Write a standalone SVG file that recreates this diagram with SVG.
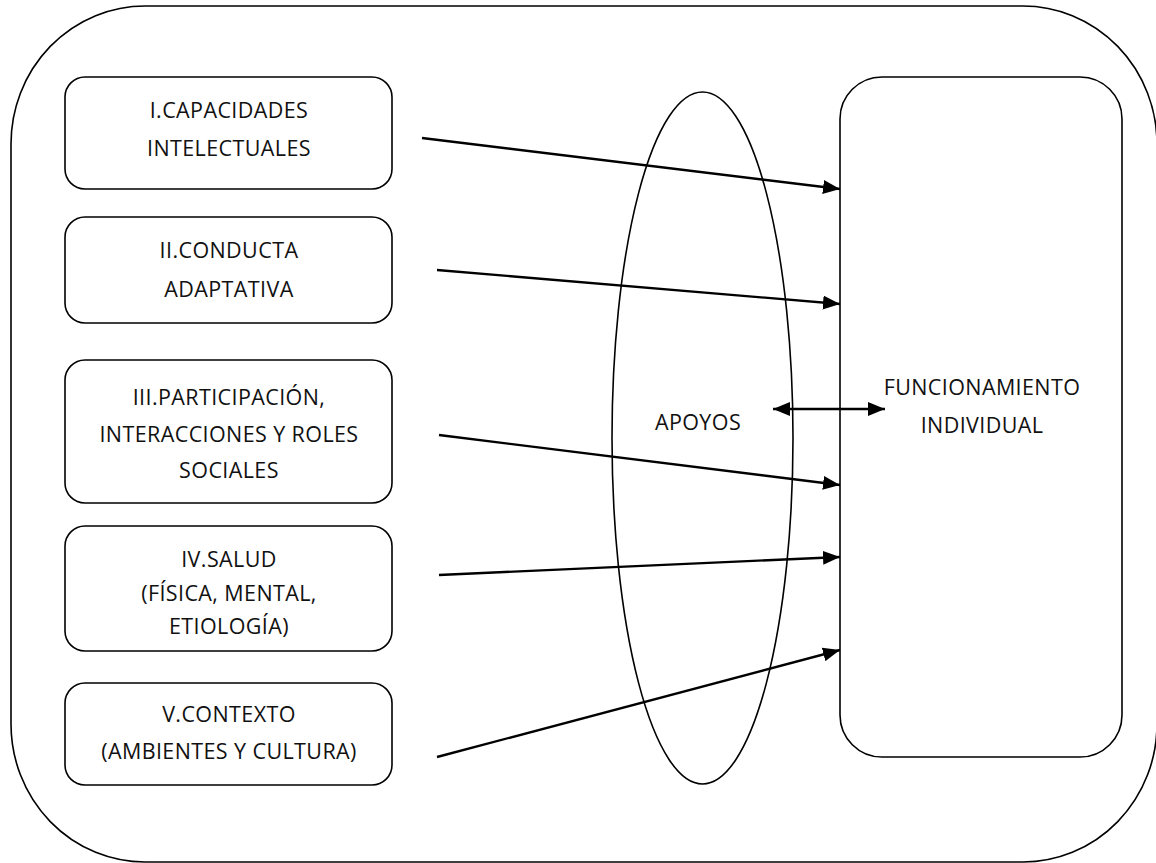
<svg xmlns="http://www.w3.org/2000/svg" width="1156" height="863" viewBox="0 0 1156 863">
<defs>
<style>
.box{fill:#fff;stroke:#000;stroke-width:1.6}
.frame{fill:none;stroke:#000;stroke-width:1.6}
.lbl{font-family:"Open Sans","Liberation Sans",sans-serif;font-size:21.5px;letter-spacing:0.4px;fill:#111;text-anchor:middle}
.conn{stroke:#000;stroke-width:2.4;fill:none}
</style>
<marker id="ah" markerUnits="userSpaceOnUse" markerWidth="18" markerHeight="14" refX="17" refY="7" orient="auto">
<path d="M0,0 L17,7 L0,14 Z" fill="#000"/>
</marker>
<marker id="ahs" markerUnits="userSpaceOnUse" markerWidth="18" markerHeight="14" refX="17" refY="7" orient="auto-start-reverse">
<path d="M0,0 L17,7 L0,14 Z" fill="#000"/>
</marker>
</defs>
<rect width="1156" height="863" fill="#fff"/>
<rect id="frame" class="frame" x="11" y="6" width="1146" height="856" rx="134" ry="138"/>
<g id="apoyos">
<ellipse class="frame" cx="702.5" cy="438" rx="90.5" ry="346"/>
<text class="lbl" x="698" y="430">APOYOS</text>
</g>
<g id="funcionamiento">
<rect class="box" x="840" y="77" width="282" height="680" rx="42"/>
<text class="lbl" x="982" y="395">FUNCIONAMIENTO</text>
<text class="lbl" x="982" y="433">INDIVIDUAL</text>
</g>
<g id="n1">
<rect class="box" x="65" y="77" width="327" height="112" rx="20"/>
<text class="lbl" x="229" y="118">I.CAPACIDADES</text>
<text class="lbl" x="229" y="156">INTELECTUALES</text>
</g>
<g id="n2">
<rect class="box" x="65" y="217" width="327" height="106" rx="20"/>
<text class="lbl" x="229" y="258">II.CONDUCTA</text>
<text class="lbl" x="229" y="297">ADAPTATIVA</text>
</g>
<g id="n3">
<rect class="box" x="65" y="360" width="327" height="143" rx="20"/>
<text class="lbl" x="229" y="405">III.PARTICIPACIÓN,</text>
<text class="lbl" x="229" y="442">INTERACCIONES Y ROLES</text>
<text class="lbl" x="229" y="478">SOCIALES</text>
</g>
<g id="n4">
<rect class="box" x="65" y="526" width="327" height="125" rx="20"/>
<text class="lbl" x="229" y="567">IV.SALUD</text>
<text class="lbl" x="229" y="601">(FÍSICA, MENTAL,</text>
<text class="lbl" x="229" y="634">ETIOLOGÍA)</text>
</g>
<g id="n5">
<rect class="box" x="65" y="683" width="327" height="102" rx="20"/>
<text class="lbl" x="229" y="722">V.CONTEXTO</text>
<text class="lbl" x="229" y="759">(AMBIENTES Y CULTURA)</text>
</g>
<g id="connectors">
<line class="conn" x1="422" y1="138" x2="840" y2="189" marker-end="url(#ah)"/>
<line class="conn" x1="437" y1="270" x2="840" y2="304" marker-end="url(#ah)"/>
<line class="conn" x1="439" y1="435" x2="840" y2="485" marker-end="url(#ah)"/>
<line class="conn" x1="439" y1="575" x2="840" y2="557" marker-end="url(#ah)"/>
<line class="conn" x1="437" y1="757" x2="840" y2="650" marker-end="url(#ah)"/>
<line class="conn" x1="773" y1="409" x2="885" y2="409" marker-start="url(#ahs)" marker-end="url(#ah)"/>
</g>
</svg>
